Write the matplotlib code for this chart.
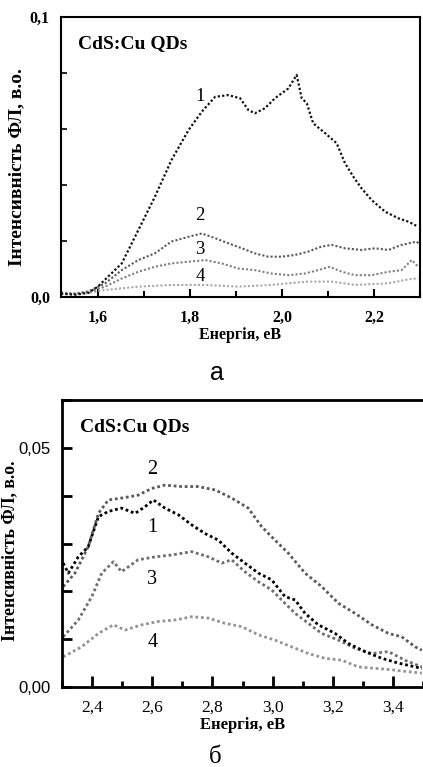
import matplotlib
matplotlib.use("Agg")
import matplotlib.pyplot as plt
from matplotlib.ticker import MultipleLocator, FuncFormatter

# ---------------- data: panel a ----------------
a1_E = [1.52, 1.55, 1.58, 1.60, 1.652, 1.688, 1.724, 1.760, 1.797, 1.826, 1.855, 1.883, 1.909,
        1.927, 1.941, 1.963, 1.985, 2.014, 2.032, 2.043, 2.054, 2.068, 2.094, 2.119, 2.137,
        2.155, 2.173, 2.195, 2.224, 2.253, 2.275, 2.296]
a1_I = [0.0012, 0.0008, 0.0015, 0.0037, 0.0120, 0.0239, 0.0358, 0.0489, 0.0596, 0.0662, 0.0715,
        0.0721, 0.0710, 0.0668, 0.0656, 0.0674, 0.0710, 0.0745, 0.0793, 0.0710, 0.0692, 0.0620,
        0.0585, 0.0549, 0.0478, 0.0430, 0.0388, 0.0346, 0.0305, 0.0281, 0.0269, 0.0251]

a2_E = [1.52, 1.55, 1.58, 1.616, 1.652, 1.688, 1.724, 1.760, 1.797, 1.826, 1.855, 1.883, 1.913,
        1.941, 1.970, 1.999, 2.028, 2.057, 2.086, 2.108, 2.137, 2.173, 2.202, 2.231, 2.260,
        2.293, 2.30]
a2_I = [0.0010, 0.0012, 0.0020, 0.0049, 0.0096, 0.0132, 0.0156, 0.0198, 0.0215, 0.0227, 0.0210,
        0.0192, 0.0174, 0.0156, 0.0144, 0.0144, 0.0150, 0.0162, 0.0180, 0.0186, 0.0174, 0.0168,
        0.0174, 0.0168, 0.0186, 0.0198, 0.0185]

a3_E = [1.52, 1.55, 1.58, 1.616, 1.652, 1.688, 1.724, 1.760, 1.797, 1.833, 1.869, 1.905, 1.941,
        1.977, 2.014, 2.050, 2.079, 2.104, 2.130, 2.159, 2.195, 2.231, 2.260, 2.282, 2.296]
a3_I = [0.0015, 0.0010, 0.0018, 0.0037, 0.0066, 0.0090, 0.0108, 0.0120, 0.0126, 0.0132, 0.0120,
        0.0102, 0.0096, 0.0084, 0.0078, 0.0084, 0.0096, 0.0108, 0.0090, 0.0078, 0.0078, 0.0090,
        0.0096, 0.0132, 0.0108]

a4_E = [1.52, 1.55, 1.58, 1.616, 1.688, 1.760, 1.833, 1.905, 1.977, 2.014, 2.057, 2.108, 2.159,
        2.231, 2.275, 2.296]
a4_I = [0.0018, 0.0012, 0.0015, 0.0025, 0.0037, 0.0043, 0.0043, 0.0037, 0.0043, 0.0049, 0.0055,
        0.0055, 0.0043, 0.0049, 0.0063, 0.0067]

# ---------------- data: panel b ----------------
b1_E = [2.304, 2.321, 2.354, 2.387, 2.421, 2.454, 2.498, 2.543, 2.576, 2.604, 2.642, 2.687, 2.731,
        2.775, 2.820, 2.864, 2.908, 2.953, 2.997, 3.041, 3.075, 3.108, 3.152, 3.208, 3.252,
        3.307, 3.363, 3.418, 3.474, 3.496]
b1_I = [0.0259, 0.0238, 0.0272, 0.0293, 0.0356, 0.0367, 0.0374, 0.0363, 0.0377, 0.0391, 0.0374,
        0.0360, 0.0339, 0.0321, 0.0307, 0.0280, 0.0259, 0.0238, 0.0224, 0.0189, 0.0182, 0.0154,
        0.0130, 0.0112, 0.0091, 0.0074, 0.0060, 0.0050, 0.0042, 0.0039]

b2_E = [2.304, 2.343, 2.387, 2.421, 2.454, 2.498, 2.553, 2.598, 2.642, 2.698, 2.753, 2.809, 2.864,
        2.919, 2.964, 3.008, 3.052, 3.108, 3.163, 3.219, 3.274, 3.330, 3.385, 3.429, 3.474, 3.496]
b2_I = [0.0210, 0.0238, 0.0293, 0.0363, 0.0391, 0.0395, 0.0401, 0.0415, 0.0422, 0.0419, 0.0419,
        0.0412, 0.0395, 0.0374, 0.0335, 0.0307, 0.0280, 0.0238, 0.0210, 0.0175, 0.0154, 0.0130,
        0.0112, 0.0105, 0.0084, 0.0077]

b3_E = [2.304, 2.354, 2.399, 2.432, 2.471, 2.498, 2.553, 2.609, 2.665, 2.731, 2.787, 2.831, 2.864,
        2.908, 2.953, 2.997, 3.041, 3.075, 3.119, 3.163, 3.219, 3.274, 3.330, 3.385, 3.440, 3.496]
b3_I = [0.0105, 0.0140, 0.0189, 0.0238, 0.0262, 0.0241, 0.0266, 0.0272, 0.0276, 0.0283, 0.0272,
        0.0259, 0.0266, 0.0241, 0.0220, 0.0203, 0.0175, 0.0154, 0.0133, 0.0112, 0.0098, 0.0081,
        0.0070, 0.0074, 0.0056, 0.0042]

b4_E = [2.304, 2.365, 2.421, 2.471, 2.509, 2.565, 2.620, 2.676, 2.731, 2.787, 2.842, 2.898, 2.953,
        3.008, 3.063, 3.119, 3.174, 3.230, 3.285, 3.341, 3.396, 3.451, 3.496]
b4_I = [0.0063, 0.0084, 0.0112, 0.0130, 0.0119, 0.0130, 0.0137, 0.0140, 0.0147, 0.0144, 0.0133,
        0.0126, 0.0109, 0.0098, 0.0084, 0.0070, 0.0060, 0.0056, 0.0042, 0.0039, 0.0036, 0.0032,
        0.0029]

curve_labels = ["1", "2", "3", "4"]
sample_text = "CdS:Cu QDs"
xlabel_text = "Енергія, еВ"
ylabel_text = "Інтенсивність ФЛ, в.о."

SERIF = ["Liberation Serif", "DejaVu Serif"]
SANS = ["Liberation Sans", "DejaVu Sans"]

fig = plt.figure(figsize=(4.23, 7.67), dpi=100)

def comma(fmt):
    return lambda v, p: (fmt % v).replace(".", ",")

# ---------------- panel a ----------------
axa = fig.add_axes([61 / 423, 1 - 297 / 767, 359 / 423, 280 / 767])
axa.plot(a4_E, a4_I, ls=(0, (1, 1)), lw=1.5, color="#a8a8a8")
axa.plot(a3_E, a3_I, ls=(0, (1, 1)), lw=1.5, color="#808080")
axa.plot(a2_E, a2_I, ls=(0, (1, 1)), lw=1.5, color="#585858")
axa.plot(a1_E, a1_I, ls=(0, (1, 1)), lw=1.6, color="#111111")
axa.set_xlim(1.52, 2.30)
axa.set_ylim(0, 0.1)
axa.xaxis.set_major_locator(MultipleLocator(0.2))
axa.xaxis.set_minor_locator(MultipleLocator(0.1))
axa.yaxis.set_major_locator(MultipleLocator(0.02))
axa.xaxis.set_major_formatter(FuncFormatter(comma("%.1f")))
axa.yaxis.set_major_formatter(FuncFormatter(
    lambda v, p: ("%.1f" % v).replace(".", ",") if (abs(v) < 1e-9 or abs(v - 0.1) < 1e-9) else ""))
axa.tick_params(axis="both", which="both", direction="in")
axa.tick_params(axis="x", which="major", length=6, width=1.5, pad=9)
axa.tick_params(axis="x", which="minor", length=4, width=1.5)
axa.tick_params(axis="y", which="major", length=4, width=1.2, pad=8)
for sp in axa.spines.values():
    sp.set_linewidth(1.5)
for lab in axa.get_xticklabels() + axa.get_yticklabels():
    lab.set_fontfamily(SERIF)
    lab.set_fontweight("bold")
    lab.set_fontsize(11.5)
axa.set_xlabel(xlabel_text, fontfamily=SERIF, fontweight="bold", fontsize=11.5, labelpad=1)
fig.text(17 / 423, 1 - 167 / 767, ylabel_text, fontfamily=SERIF, fontweight="bold", fontsize=14,
         rotation=90, ha="center", va="center")
axa.text(1.556, 0.0905, sample_text, fontfamily=SERIF, fontweight="bold", fontsize=14,
         va="center", ha="left")
for lab, (xe, yi) in zip(curve_labels, [(1.822, 0.0715), (1.822, 0.0290), (1.822, 0.0168), (1.822, 0.0073)]):
    axa.text(xe, yi, lab, fontfamily=SERIF, fontsize=13.5, ha="center", va="center")

fig.text(217 / 423, 1 - 373 / 767, "а", fontfamily=SANS, fontsize=18, ha="center", va="center")

# ---------------- panel b ----------------
axb = fig.add_axes([62 / 423, 1 - 687 / 767, 361 / 423, 287 / 767])
axb.plot(b4_E, b4_I, ls=(0, (1, 1)), lw=2.0, color="#949494")
axb.plot(b3_E, b3_I, ls=(0, (1, 1)), lw=2.0, color="#6e6e6e")
axb.plot(b2_E, b2_I, ls=(0, (1, 1)), lw=2.0, color="#5a5a5a")
axb.plot(b1_E, b1_I, ls=(0, (1, 1)), lw=2.0, color="#000000")
axb.set_xlim(2.30, 3.50)
axb.set_ylim(0, 0.06)
axb.xaxis.set_major_locator(MultipleLocator(0.2))
axb.xaxis.set_minor_locator(MultipleLocator(0.1))
axb.yaxis.set_major_locator(MultipleLocator(0.01))
axb.xaxis.set_major_formatter(FuncFormatter(comma("%.1f")))
axb.yaxis.set_major_formatter(FuncFormatter(
    lambda v, p: ("%.2f" % v).replace(".", ",") if (abs(v) < 1e-9 or abs(v - 0.05) < 1e-9) else ""))
axb.tick_params(axis="both", which="both", direction="in")
axb.tick_params(axis="x", which="major", length=8, width=2, pad=9)
axb.tick_params(axis="x", which="minor", length=4, width=2)
axb.tick_params(axis="y", which="major", length=7, width=2, pad=8)
axb.spines["right"].set_visible(False)
for name, sp in axb.spines.items():
    sp.set_linewidth(2)
for lab in axb.get_xticklabels():
    lab.set_fontfamily(SERIF)
    lab.set_fontsize(12.5)
for lab in axb.get_yticklabels():
    lab.set_fontfamily(SANS)
    lab.set_fontsize(12)
axb.set_xlabel(xlabel_text, fontfamily=SERIF, fontweight="bold", fontsize=12, labelpad=1)
fig.text(10 / 423, 1 - 551 / 767, ylabel_text, fontfamily=SERIF, fontweight="bold", fontsize=12.8,
         rotation=90, ha="center", va="center")
axb.text(2.36, 0.0545, sample_text, fontfamily=SERIF, fontweight="bold", fontsize=14,
         va="center", ha="left")
for lab, (xe, yi) in zip(curve_labels, [(2.60, 0.0333), (2.60, 0.0455), (2.60, 0.0224), (2.60, 0.0092)]):
    axb.text(xe, yi, lab, fontfamily=SERIF, fontsize=14.5, ha="center", va="center")

fig.text(215 / 423, 1 - 757 / 767, "б", fontfamily=SERIF, fontsize=18, ha="center", va="center")

fig.savefig("out.png", dpi=100)
